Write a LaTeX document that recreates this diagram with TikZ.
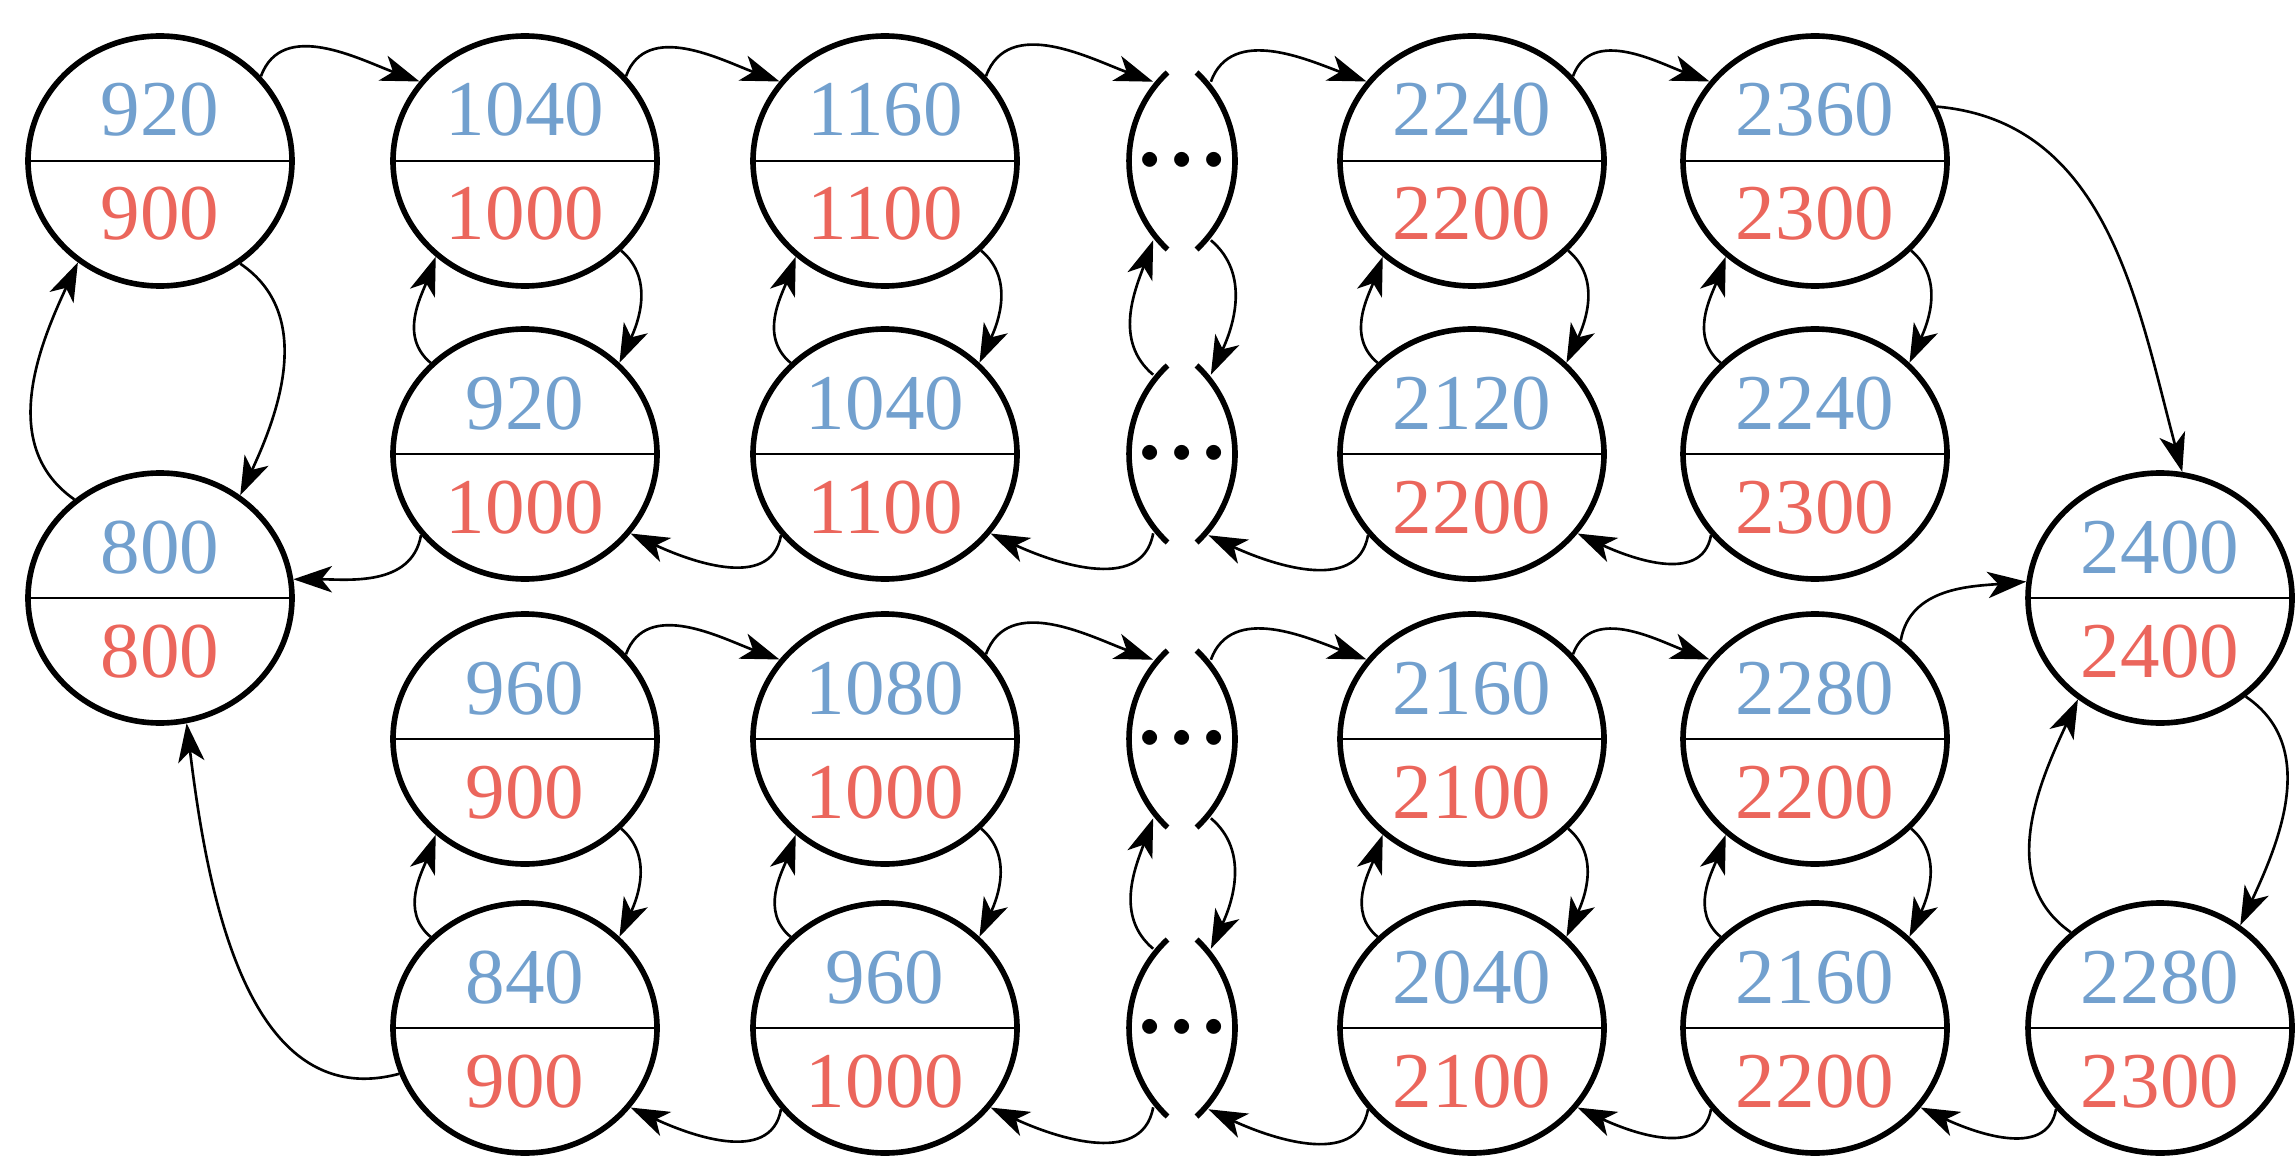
\documentclass[tikz,border=0pt]{standalone}
\usepackage{fontspec}
\setmainfont{Liberation Serif}
\usetikzlibrary{
    arrows.meta,     % For arrow tips
    shapes.geometric % For ellipse nodes
}

\definecolor{upblue}{RGB}{114,160,206}
\definecolor{lowred}{RGB}{235,102,92}

\begin{document}
\begin{tikzpicture}[
    >={Stealth[length=11pt, width=7.5pt, inset=3pt]}, % Default arrow tip
    state/.style={ellipse, draw, line width=1.6pt, minimum width=2.64cm, minimum height=2.5cm, inner sep=0pt},
    dotsnode/.style={ellipse, minimum width=1cm, minimum height=1.8cm, inner sep=0pt, font=\fontsize{11}{12}\selectfont},
    border/.style={line width=1.6pt},
    divider/.style={line width=0.7pt},
    upnum/.style={text=upblue, anchor=base, font=\fontsize{22.5}{26}\selectfont},
    lownum/.style={text=lowred, anchor=base, font=\fontsize{22.5}{26}\selectfont},
    link/.style={->, line width=0.75pt},
    fwd/.style={link, out=70, in=160},    % rightwards over the top
    bwd/.style={link, out=260, in=-25},   % leftwards under the bottom
    godown/.style={link, out=-40, in=65}, % down on the right side
    goup/.style={link, out=140, in=250}   % up on the left side
]

    \useasboundingbox (0,0) rectangle (22.96,-11.58);

    % --- States: name / x / y / upper value / lower value ---
    \foreach \nm/\x/\y/\hi/\lo in {
        a0/1.60/-1.61/920/900, a1/5.25/-1.61/1040/1000, a2/8.85/-1.61/1160/1100,
        a4/14.72/-1.61/2240/2200, a5/18.15/-1.61/2360/2300,
        b1/5.25/-4.54/920/1000, b2/8.85/-4.54/1040/1100,
        b4/14.72/-4.54/2120/2200, b5/18.15/-4.54/2240/2300,
        m0/1.60/-5.98/800/800, m6/21.60/-5.98/2400/2400,
        c1/5.25/-7.39/960/900, c2/8.85/-7.39/1080/1000,
        c4/14.72/-7.39/2160/2100, c5/18.15/-7.39/2280/2200,
        d1/5.25/-10.28/840/900, d2/8.85/-10.28/960/1000,
        d4/14.72/-10.28/2040/2100, d5/18.15/-10.28/2160/2200, d6/21.60/-10.28/2280/2300}
    {
        \node[state] (\nm) at (\x,\y) {};
        \draw[divider] (\nm.west) -- (\nm.east);
        \path (\nm.center) ++(0,0.25) node[upnum] (\nm-hi) {\hi};
        \path (\nm.center) ++(0,-0.79) node[lownum] (\nm-lo) {\lo};
    }

    % --- Elided states (open arcs with dots) ---
    \foreach \nm/\y in {a3/-1.61, b3/-4.54, c3/-7.39, d3/-10.28} {
        \node[dotsnode] (\nm) at (11.82,\y) {$\bullet$\hspace{3.6pt}$\bullet$\hspace{3.6pt}$\bullet$};
        \draw[border] (\nm.center) ++(-0.145,0.885) arc[start angle=133, end angle=227, radius=1.21];
        \draw[border] (\nm.center) ++(0.145,0.885) arc[start angle=47, end angle=-47, radius=1.21];
    }

    % --- Rightwards links (rows 1 and 3) ---
    \foreach \s/\t in {a0/a1, a1/a2, a4/a5, c1/c2, c4/c5} \draw[fwd] (\s.40) to (\t.143);
    \foreach \s/\t in {a2/a3, c2/c3} \draw[fwd] (\s.40) to (\t.110);
    \foreach \s/\t in {a3/a4, c3/c4} \draw[fwd] (\s.70) to (\t.143);

    % --- Down and up links between paired rows ---
    \foreach \s/\t in {a1/b1, a2/b2, a4/b4, a5/b5, c1/d1, c2/d2, c4/d4, c5/d5} \draw[godown] (\s.-43) to (\t.44);
    \foreach \s/\t in {a3/b3, c3/d3} \draw[godown] (\s.-70) to (\t.70);
    \foreach \s/\t in {b1/a1, b2/a2, b4/a4, b5/a5, d1/c1, d2/c2, d4/c4, d5/c5} \draw[goup] (\s.136) to (\t.227);
    \foreach \s/\t in {b3/a3, d3/c3} \draw[goup] (\s.110) to (\t.250);

    % --- Leftwards links (rows 2 and 4) ---
    \foreach \s/\t in {b5/b4, b2/b1, d6/d5, d5/d4, d2/d1} \draw[bwd] (\s.218) to (\t.-37);
    \foreach \s/\t in {b4/b3, d4/d3} \draw[bwd] (\s.218) to (\t.-72);
    \foreach \s/\t in {b3/b2, d3/d2} \draw[bwd] (\s.250) to (\t.-37);

    % --- Outer column links ---
    \draw[link] (b1.218) to[out=260, in=0] (m0.8);
    \draw[link] (d1.200) to[out=195, in=-83] (m0.-78);
    \draw[link] (a0.-52) to[out=-34, in=65] (m0.52);
    \draw[link] (m0.131) to[out=145, in=245] (a0.231);
    \draw[link] (a5.24) to[out=-5, in=105] (m6.80);
    \draw[link] (c5.49) to[out=80, in=185] (m6.173);
    \draw[link] (m6.-49) to[out=-34, in=65] (d6.52);
    \draw[link] (d6.133) to[out=145, in=245] (m6.231);

\end{tikzpicture}
\end{document}
